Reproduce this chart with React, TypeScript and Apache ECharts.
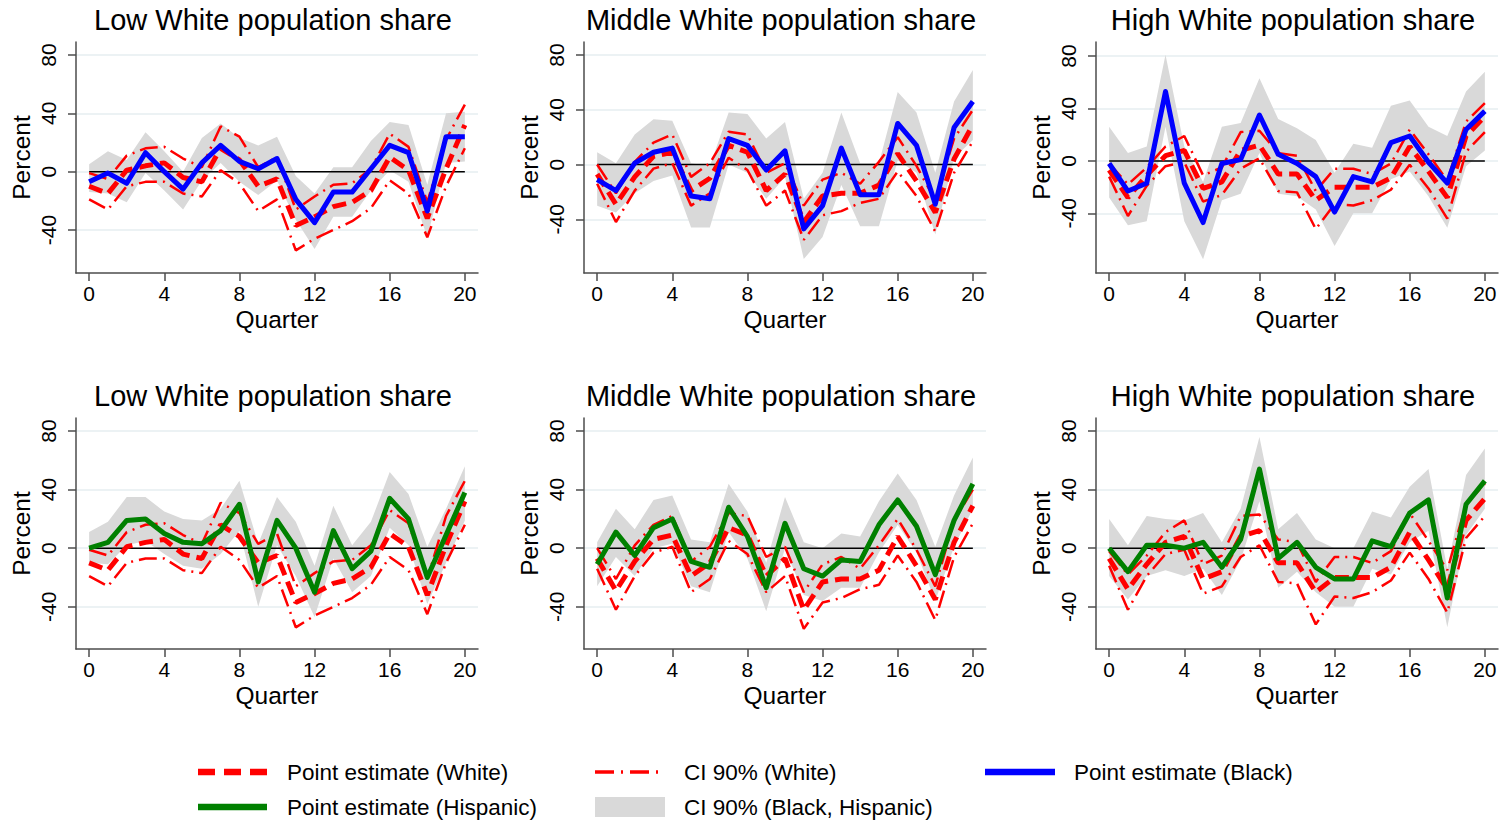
import { useEffect, useRef } from 'react'
import * as echarts from 'echarts'

const QUARTERS = [0, 1, 2, 3, 4, 5, 6, 7, 8, 9, 10, 11, 12, 13, 14, 15, 16, 17, 18, 19, 20]
const X_TICKS = [0, 4, 8, 12, 16, 20]
const Y_TICKS = [-40, 0, 40, 80]

const TITLES = ['Low White population share', 'Middle White population share', 'High White population share']

// White (red) estimates, same in both rows of a column
const WHITE_EST_LOW = [-10, -15, 1, 4, 6, -4, -7, 16, 8, -10, -5, -37, -31, -24, -21, -13, 10, 1, -32, 2, 32]
const WHITE_HI_LOW = [-1, -5, 11, 16, 17, 9, 3, 31, 24, 3, 10, -26, -17, -9, -8, 2, 26, 17, -21, 22, 46]
const WHITE_LO_LOW = [-19, -26, -10, -7, -7, -15, -17, 1, -8, -27, -19, -54, -46, -40, -34, -25, -6, -15, -45, -10, 16]

const WHITE_EST_MID = [-7, -29, -9, 6, 9, -19, -10, 14, 9, -19, -7, -42, -23, -21, -21, -15, 8, -12, -35, 4, 29]
const WHITE_HI_MID = [0, -21, 2, 16, 22, -9, 1, 24, 22, -6, 1, -30, -11, -6, -14, 2, 20, -1, -26, 19, 40]
const WHITE_LO_MID = [-14, -42, -19, -3, 1, -30, -21, 5, -4, -30, -19, -55, -37, -34, -28, -25, -5, -23, -49, -6, 17]

const WHITE_EST_HIGH = [-7, -28, -11, 4, 8, -21, -16, 8, 12, -10, -10, -30, -20, -20, -20, -13, 11, -8, -28, 19, 34]
const WHITE_HI_HIGH = [-2, -18, -5, 11, 19, -11, -5, 22, 23, 6, 4, -23, -6, -6, -10, -2, 24, 5, -15, 30, 44]
const WHITE_LO_HIGH = [-12, -42, -19, -4, -1, -31, -26, -6, 2, -23, -24, -52, -33, -34, -30, -22, -3, -21, -44, 7, 22]

// Black (blue) estimates, top row
const BLACK_EST_LOW = [-7, -1, -8, 13, 0, -12, 6, 18, 7, 2, 9, -19, -35, -14, -14, 2, 18, 13, -27, 24, 24]
const BLACK_LO_LOW = [-14, -15, -21, -1, -13, -26, -6, 6, -7, -16, -6, -33, -53, -31, -31, -13, 1, -7, -45, 6, 7]
const BLACK_HI_LOW = [5, 14, 8, 27, 14, 0, 23, 33, 23, 18, 24, -3, -15, 3, 3, 21, 34, 32, -9, 40, 41]

const BLACK_EST_MID = [-11, -19, 1, 9, 12, -23, -25, 19, 14, -4, 10, -47, -30, 12, -22, -22, 30, 14, -29, 27, 46]
const BLACK_LO_MID = [-30, -35, -21, -12, -8, -46, -46, 0, -6, -25, -9, -69, -53, -15, -45, -45, 3, -6, -51, 5, 18]
const BLACK_HI_MID = [9, 1, 22, 33, 32, 1, -1, 38, 37, 19, 31, -25, -6, 38, 1, 1, 53, 38, -6, 46, 69]

const BLACK_EST_HIGH = [-2, -23, -17, 53, -17, -47, -2, 1, 35, 5, -2, -12, -39, -12, -16, 14, 19, -1, -17, 24, 38]
const BLACK_LO_HIGH = [-28, -49, -46, 26, -46, -75, -30, -25, 6, -25, -27, -37, -65, -40, -40, -14, -8, -27, -51, -4, 8]
const BLACK_HI_HIGH = [26, 6, 11, 81, 11, -16, 26, 29, 63, 32, 25, 16, -9, 13, 10, 42, 46, 26, 19, 53, 68]

// Hispanic (green) estimates, bottom row
const HISP_EST_LOW = [0, 4, 19, 20, 10, 4, 3, 12, 30, -23, 19, 0, -30, 12, -14, -2, 34, 20, -20, 9, 38]
const HISP_LO_LOW = [-10, -11, 2, 5, -4, -12, -14, -4, 12, -40, 2, -19, -47, -7, -30, -19, 14, 2, -38, -10, 19]
const HISP_HI_LOW = [11, 18, 35, 35, 25, 20, 19, 27, 46, 3, 35, 18, -12, 29, 2, 18, 52, 37, 1, 27, 56]

const HISP_EST_MID = [-11, 11, -5, 14, 20, -9, -13, 28, 8, -27, 17, -14, -19, -8, -9, 16, 33, 15, -18, 19, 44]
const HISP_LO_MID = [-26, -6, -19, 0, 3, -26, -30, 11, -7, -43, 0, -32, -36, -27, -27, -3, 16, -3, -36, 1, 27]
const HISP_HI_MID = [4, 27, 13, 33, 36, 6, 4, 44, 25, -10, 35, 4, 0, 10, 8, 32, 51, 33, 1, 36, 62]

const HISP_EST_HIGH = [0, -16, 2, 2, 0, 4, -13, 6, 54, -7, 4, -13, -21, -21, 5, 1, 24, 33, -34, 30, 46]
const HISP_LO_HIGH = [-19, -35, -19, -15, -19, -14, -32, -8, 32, -27, -16, -30, -40, -40, -14, -18, 4, 12, -54, 9, 27]
const HISP_HI_HIGH = [20, 2, 22, 20, 19, 24, 4, 27, 76, 13, 24, 6, 0, 0, 25, 21, 42, 54, -14, 50, 68]

// y-axis extents per panel (row-major)
const Y_MIN = [-69.5, -79.2, -85.5, -68.8, -68.8, -68.8]
const Y_MAX = [88.9, 89.5, 90.7, 88.9, 88.9, 88.9]

const LEGEND_LABELS = [
  'Point estimate (White)',
  'CI 90% (White)',
  'Point estimate (Black)',
  'Point estimate (Hispanic)',
  'CI 90% (Black, Hispanic)',
]

const FONT = '"Liberation Sans", Arial, Helvetica, sans-serif'
const RED = '#ff0000'
const BLUE = '#0000ff'
const GREEN = '#008000'
const BAND = '#d9d9d9'
const AXIS = '#4d4d4d'
const GRIDLINE = '#e6eef0'
const EST_DASH = [14, 7]
const CI_DASH = [18, 6, 2, 6]

const GRID_W = 402
const GRID_H = 231
const LEFTS = [76, 584, 1096]
const TOPS = [42, 418]

type Trio = { est: number[]; lo: number[]; hi: number[] }

const WHITE: Trio[] = [
  { est: WHITE_EST_LOW, lo: WHITE_LO_LOW, hi: WHITE_HI_LOW },
  { est: WHITE_EST_MID, lo: WHITE_LO_MID, hi: WHITE_HI_MID },
  { est: WHITE_EST_HIGH, lo: WHITE_LO_HIGH, hi: WHITE_HI_HIGH },
]
const BLACK: Trio[] = [
  { est: BLACK_EST_LOW, lo: BLACK_LO_LOW, hi: BLACK_HI_LOW },
  { est: BLACK_EST_MID, lo: BLACK_LO_MID, hi: BLACK_HI_MID },
  { est: BLACK_EST_HIGH, lo: BLACK_LO_HIGH, hi: BLACK_HI_HIGH },
]
const HISP: Trio[] = [
  { est: HISP_EST_LOW, lo: HISP_LO_LOW, hi: HISP_HI_LOW },
  { est: HISP_EST_MID, lo: HISP_LO_MID, hi: HISP_HI_MID },
  { est: HISP_EST_HIGH, lo: HISP_LO_HIGH, hi: HISP_HI_HIGH },
]

const pairs = (ys: number[]) => QUARTERS.map((q, k) => [q, ys[k]])

function buildOption() {
  const grids: any[] = []
  const xAxes: any[] = []
  const yAxes: any[] = []
  const titles: any[] = []
  const series: any[] = []

  for (let row = 0; row < 2; row++) {
    for (let col = 0; col < 3; col++) {
      const i = row * 3 + col
      const left = LEFTS[col]
      const top = TOPS[row]
      const white = WHITE[col]
      const minority = row === 0 ? BLACK[col] : HISP[col]
      const color = row === 0 ? BLUE : GREEN

      grids.push({ left, top, width: GRID_W, height: GRID_H })
      titles.push({
        text: TITLES[col],
        left: left + GRID_W / 2 - 4,
        top: top - 37,
        textAlign: 'center',
        padding: 0,
        textStyle: { fontSize: 29, fontWeight: 'normal', color: '#000', fontFamily: FONT },
      })
      xAxes.push({
        type: 'value',
        gridIndex: i,
        min: -0.7,
        max: 20.7,
        name: 'Quarter',
        nameLocation: 'middle',
        nameGap: 34,
        nameTextStyle: { fontSize: 24.5, color: '#000', fontFamily: FONT },
        axisLine: { show: true, onZero: false, lineStyle: { color: AXIS, width: 1.5 } },
        axisTick: { show: true, length: 8, customValues: X_TICKS, lineStyle: { color: AXIS, width: 1.5 } },
        axisLabel: { customValues: X_TICKS, margin: 10, fontSize: 21, color: '#000', fontFamily: FONT },
        splitLine: { show: false },
      })
      yAxes.push({
        type: 'value',
        gridIndex: i,
        min: Y_MIN[i],
        max: Y_MAX[i],
        name: 'Percent',
        nameLocation: 'middle',
        nameGap: 42,
        nameTextStyle: { fontSize: 24.5, color: '#000', fontFamily: FONT },
        axisLine: { show: true, onZero: false, lineStyle: { color: AXIS, width: 1.5 } },
        axisTick: { show: true, length: 8, customValues: Y_TICKS, lineStyle: { color: AXIS, width: 1.5 } },
        axisLabel: {
          customValues: Y_TICKS,
          rotate: 90,
          margin: 17,
          fontSize: 21,
          color: '#000',
          fontFamily: FONT,
        },
        splitLine: { show: false },
      })

      const lo = minority.lo
      const hi = minority.hi
      series.push({
        type: 'custom',
        xAxisIndex: i,
        yAxisIndex: i,
        silent: true,
        z: 1,
        data: QUARTERS.map((q, k) => [q, lo[k], hi[k]]),
        encode: { x: 0, y: [1, 2] },
        renderItem: (params: any, api: any) => {
          if (params.dataIndex !== 0) return null
          const upper = QUARTERS.map((q, k) => api.coord([q, hi[k]]))
          const lower = QUARTERS.map((q, k) => api.coord([q, lo[k]])).reverse()
          return {
            type: 'polygon',
            shape: { points: [...upper, ...lower] },
            style: { fill: BAND, stroke: 'none' },
          }
        },
      })
      series.push({
        type: 'line',
        xAxisIndex: i,
        yAxisIndex: i,
        silent: true,
        symbol: 'none',
        z: 2,
        data: QUARTERS.map((q) => [q, 0]),
        lineStyle: { color: '#000', width: 1.5 },
        markLine: {
          silent: true,
          symbol: 'none',
          z: 0,
          label: { show: false },
          lineStyle: { color: GRIDLINE, width: 1.5, type: 'solid' },
          data: Y_TICKS.map((v) => ({ yAxis: v })),
        },
      })
      for (const ci of [white.hi, white.lo]) {
        series.push({
          type: 'line',
          xAxisIndex: i,
          yAxisIndex: i,
          silent: true,
          symbol: 'none',
          z: 3,
          data: pairs(ci),
          lineStyle: { color: RED, width: 2.5, type: CI_DASH },
        })
      }
      series.push({
        type: 'line',
        xAxisIndex: i,
        yAxisIndex: i,
        silent: true,
        symbol: 'none',
        z: 4,
        data: pairs(white.est),
        lineStyle: { color: RED, width: 5, type: EST_DASH },
      })
      series.push({
        type: 'line',
        xAxisIndex: i,
        yAxisIndex: i,
        silent: true,
        symbol: 'none',
        z: 5,
        data: pairs(minority.est),
        lineStyle: { color, width: 5, join: 'round' },
      })
    }
  }

  const textStyle = (text: string, x: number, y: number) => ({
    type: 'text',
    x,
    y,
    style: { text, fill: '#000', fontSize: 22.5, fontFamily: FONT, verticalAlign: 'middle', align: 'left' },
  })
  const row1 = 772
  const row2 = 807
  const graphic = [
    { type: 'line', shape: { x1: 198, y1: row1, x2: 267, y2: row1 }, style: { stroke: RED, lineWidth: 6.5, lineDash: [17, 9] } },
    textStyle(LEGEND_LABELS[0], 287, row1),
    { type: 'line', shape: { x1: 595, y1: row1, x2: 660, y2: row1 }, style: { stroke: RED, lineWidth: 3.5, lineDash: [19, 7, 2, 7] } },
    textStyle(LEGEND_LABELS[1], 684, row1),
    { type: 'line', shape: { x1: 985, y1: row1, x2: 1055, y2: row1 }, style: { stroke: BLUE, lineWidth: 6.5 } },
    textStyle(LEGEND_LABELS[2], 1074, row1),
    { type: 'line', shape: { x1: 198, y1: row2, x2: 267, y2: row2 }, style: { stroke: GREEN, lineWidth: 6.5 } },
    textStyle(LEGEND_LABELS[3], 287, row2),
    { type: 'rect', shape: { x: 595, y: row2 - 10, width: 70, height: 20 }, style: { fill: BAND } },
    textStyle(LEGEND_LABELS[4], 684, row2),
  ]

  return {
    animation: false,
    backgroundColor: '#ffffff',
    title: titles,
    grid: grids,
    xAxis: xAxes,
    yAxis: yAxes,
    series,
    graphic,
  }
}

export default function App() {
  const ref = useRef<HTMLDivElement>(null)

  useEffect(() => {
    const el = ref.current
    if (!el) return
    const chart = echarts.init(el, undefined, { renderer: 'svg' })
    chart.setOption(buildOption() as any)
    return () => chart.dispose()
  }, [])

  return (
    <div
      ref={ref}
      style={{ position: 'absolute', left: 0, top: 0, width: 1503, height: 822, background: '#fff' }}
    />
  )
}
